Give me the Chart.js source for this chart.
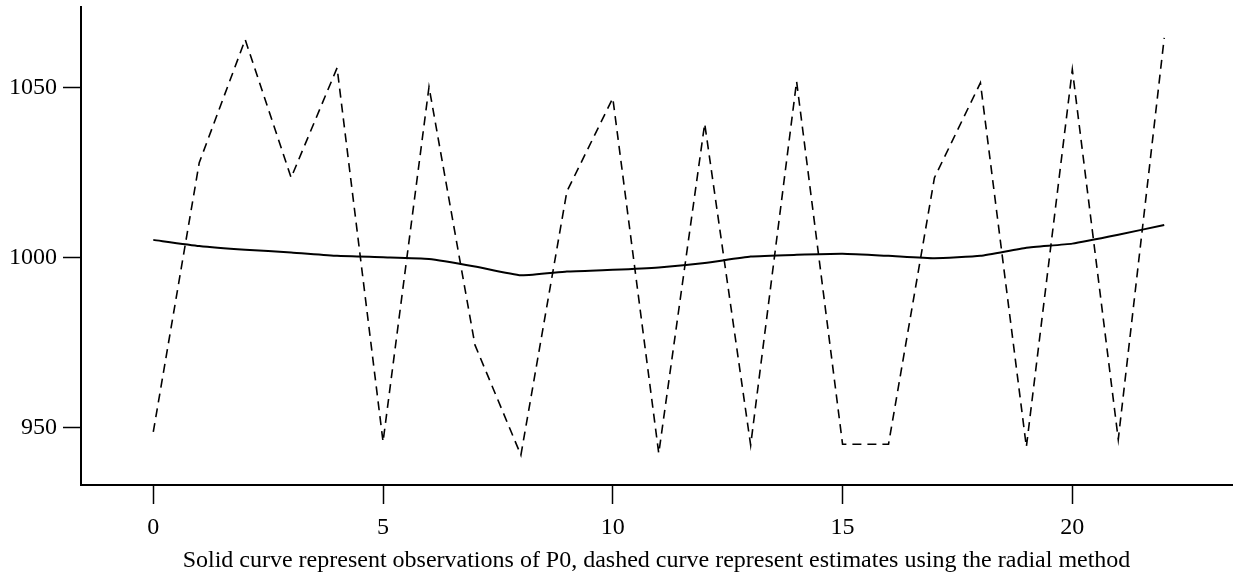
<!DOCTYPE html>
<html>
<head>
<meta charset="utf-8">
<script src="https://cdn.jsdelivr.net/npm/chart.js@4"></script>
<style>
  html, body { margin: 0; padding: 0; background: #fff; }
  canvas { display: block; }
</style>
</head>
<body>
<canvas id="chart" width="1235" height="579"></canvas>
<script>
// data
const xValues = [0, 1, 2, 3, 4, 5, 6, 7, 8, 9, 10, 11, 12, 13, 14, 15, 16, 17, 18, 19, 20, 21, 22];
const observed = [1005.2, 1003.4, 1002.3, 1001.5, 1000.5, 1000.1, 999.6, 997.4, 994.8, 995.9, 996.4, 997.1,
  998.4, 1000.3, 1000.8, 1001.1, 1000.5, 999.8, 1000.5, 1002.9, 1004.1, 1006.7, 1009.6];
const estimated = [948.7, 1027.9, 1064.1, 1023.5, 1055.8, 945.8, 1050.2, 974.3, 941.9, 1019.4, 1046.9, 942.4,
  1039.4, 944.8, 1051.8, 945.1, 945.1, 1023.5, 1051.4, 944.3, 1055.3, 946.5, 1064.6];
const xTicks = [0, 5, 10, 15, 20];
const yTicks = [950, 1000, 1050];
const caption = "Solid curve represent observations of P0, dashed curve represent estimates using the radial method";

const serif = "'Liberation Serif', 'DejaVu Serif', serif";

const toPoints = (ys) => xValues.map((x, i) => ({ x: x, y: ys[i] }));

new Chart(document.getElementById("chart"), {
  type: "line",
  data: {
    datasets: [
      {
        label: "observed",
        data: toPoints(observed),
        borderColor: "#000",
        borderWidth: 2,
        pointRadius: 0,
        tension: 0.15,
      },
      {
        label: "estimated",
        data: toPoints(estimated),
        borderColor: "#000",
        borderWidth: 1.6,
        borderDash: [9, 6],
        pointRadius: 0,
        tension: 0,
      },
    ],
  },
  options: {
    responsive: false,
    animation: false,
    layout: { padding: { top: 7, right: 3, left: 0, bottom: 0 } },
    plugins: {
      legend: { display: false },
      tooltip: { enabled: false },
    },
    scales: {
      x: {
        type: "linear",
        min: -1.573,
        max: 23.475,
        afterBuildTicks: (axis) => { axis.ticks = xTicks.map(v => ({ value: v })); },
        afterFit: (axis) => {
          axis.height = 94;
          axis.paddingLeft = 0;
          axis.paddingRight = 0;
        },
        grid: { drawOnChartArea: false, tickLength: 19, tickColor: "#000", tickWidth: 1.5 },
        border: { display: true, color: "#000", width: 2 },
        ticks: {
          color: "#000",
          padding: 9,
          maxRotation: 0,
          font: { family: serif, size: 24 },
          callback: (v) => String(v),
        },
        title: {
          display: true,
          text: caption,
          color: "#000",
          font: { family: serif, size: 24 },
          padding: { top: 0, bottom: 4 },
        },
      },
      y: {
        type: "linear",
        min: 933.1,
        max: 1073.7,
        afterBuildTicks: (axis) => { axis.ticks = yTicks.map(v => ({ value: v })); },
        afterFit: (axis) => {
          axis.width = 81;
          axis.paddingTop = 0;
          axis.paddingBottom = 0;
        },
        grid: { drawOnChartArea: false, tickLength: 18, tickColor: "#000", tickWidth: 1.5 },
        border: { display: true, color: "#000", width: 2 },
        ticks: {
          color: "#000",
          padding: 6,
          font: { family: serif, size: 24 },
          callback: (v) => String(v),
        },
      },
    },
  },
});
</script>
</body>
</html>
